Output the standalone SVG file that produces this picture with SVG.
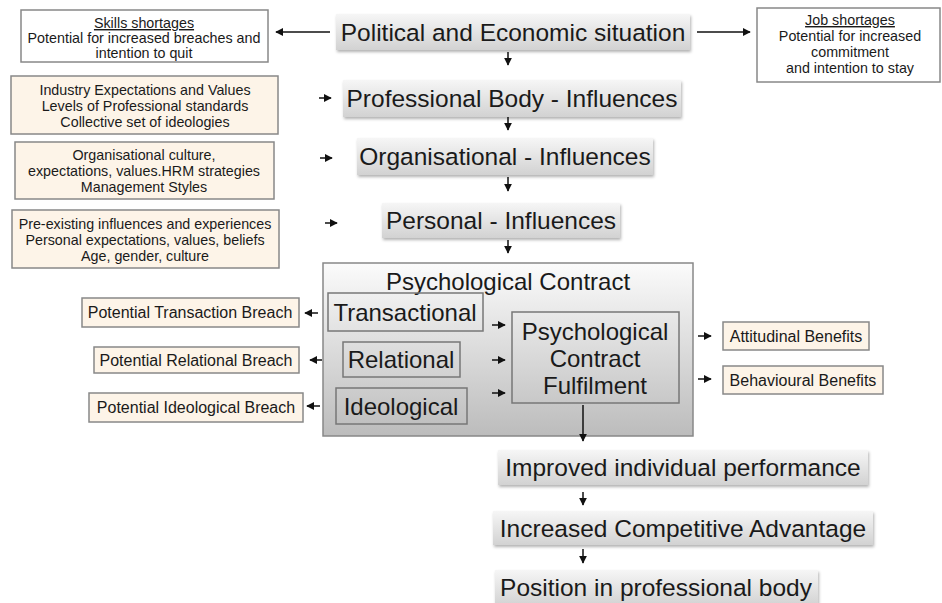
<svg xmlns="http://www.w3.org/2000/svg" width="942" height="603" viewBox="0 0 942 603">
<defs>
<linearGradient id="gbox" x1="0" y1="0" x2="0" y2="1">
<stop offset="0" stop-color="#f6f6f6"/><stop offset="1" stop-color="#d2d2d2"/>
</linearGradient>
<linearGradient id="gbig" x1="0" y1="0" x2="0" y2="1">
<stop offset="0" stop-color="#fbfbfb"/><stop offset="1" stop-color="#bcbcbc"/>
</linearGradient>
<filter id="sh" x="-5%" y="-20%" width="110%" height="150%">
<feDropShadow dx="1" dy="2" stdDeviation="1.5" flood-color="#000" flood-opacity="0.3"/>
</filter>
<marker id="ah" viewBox="0 0 10 10" refX="9" refY="5" markerWidth="8" markerHeight="8" markerUnits="userSpaceOnUse" orient="auto">
<path d="M0,0 L10,5 L0,10 z" fill="#111"/>
</marker>
</defs>
<style>
.t{font-family:"Liberation Sans",Arial,sans-serif;fill:#1a1a1a;text-anchor:middle}
.big{font-size:24.5px}
.sm{font-size:14.3px}
.md{font-size:16px}
.cx{font-size:24px}
.gb{fill:url(#gbox);filter:url(#sh)}
.wb{fill:#fff;stroke:#888;stroke-width:1.5}
.bb{fill:#fdf4e8;stroke:#888;stroke-width:1.5}
.ib{fill:none;stroke:#777;stroke-width:1.5}
.c{stroke:#111;stroke-width:1.5;fill:none;marker-end:url(#ah)}
</style>
<rect width="942" height="603" fill="#fff"/>

<g id="political"><rect class="gb" x="336" y="14" width="354" height="36"/><text class="t big" x="513" y="41">Political and Economic situation</text></g>
<g id="skills"><rect class="wb" x="21" y="10" width="247" height="52"/>
<text class="t sm" x="144" y="28" text-decoration="underline">Skills shortages</text>
<text class="t sm" x="144" y="43">Potential for increased breaches and</text>
<text class="t sm" x="144" y="58">intention to quit</text></g>
<g id="jobs"><rect class="wb" x="757" y="8" width="183" height="74"/>
<text class="t sm" x="850" y="25" text-decoration="underline">Job shortages</text>
<text class="t sm" x="850" y="41">Potential for increased</text>
<text class="t sm" x="850" y="57">commitment</text>
<text class="t sm" x="850" y="73">and intention to stay</text></g>

<g id="professional"><rect class="gb" x="343" y="80" width="338" height="37"/><text class="t big" x="512" y="107">Professional Body - Influences</text></g>
<g id="industry"><rect class="bb" x="11" y="76" width="267" height="58"/>
<text class="t sm" x="145" y="95">Industry Expectations and Values</text>
<text class="t sm" x="145" y="111">Levels of Professional standards</text>
<text class="t sm" x="145" y="127">Collective set of ideologies</text></g>

<g id="organisational"><rect class="gb" x="357" y="138" width="296" height="37"/><text class="t big" x="505" y="165">Organisational - Influences</text></g>
<g id="orgculture"><rect class="bb" x="15" y="142" width="259" height="57"/>
<text class="t sm" x="144" y="160">Organisational culture,</text>
<text class="t sm" x="144" y="176">expectations, values.HRM strategies</text>
<text class="t sm" x="144" y="192">Management Styles</text></g>

<g id="personal"><rect class="gb" x="382" y="203" width="238" height="35"/><text class="t big" x="501" y="229">Personal - Influences</text></g>
<g id="preexisting"><rect class="bb" x="12" y="210" width="267" height="58"/>
<text class="t sm" x="145" y="229">Pre-existing influences and experiences</text>
<text class="t sm" x="145" y="245">Personal expectations, values, beliefs</text>
<text class="t sm" x="145" y="261">Age, gender, culture</text></g>

<g id="contract"><rect x="323" y="263" width="370" height="173" fill="url(#gbig)" stroke="#888" stroke-width="1.5"/>
<text class="t cx" x="508" y="290">Psychological Contract</text></g>
<g id="transactional"><rect class="ib" x="328" y="293" width="155" height="38"/><text class="t cx" x="405" y="321">Transactional</text></g>
<g id="relational"><rect class="ib" x="343" y="342" width="117" height="35"/><text class="t cx" x="401" y="368">Relational</text></g>
<g id="ideological"><rect class="ib" x="336" y="388" width="131" height="36"/><text class="t cx" x="401" y="415">Ideological</text></g>
<g id="fulfilment"><rect class="ib" x="512" y="312" width="167" height="91"/>
<text class="t cx" x="595" y="340">Psychological</text>
<text class="t cx" x="595" y="367">Contract</text>
<text class="t cx" x="595" y="394">Fulfilment</text></g>

<g id="transbreach"><rect class="bb" x="82" y="298" width="217" height="29"/><text class="t md" x="190" y="318">Potential Transaction Breach</text></g>
<g id="relbreach"><rect class="bb" x="94" y="347" width="205" height="26"/><text class="t md" x="196" y="366">Potential Relational Breach</text></g>
<g id="ideobreach"><rect class="bb" x="89" y="393" width="214" height="29"/><text class="t md" x="196" y="413">Potential Ideological Breach</text></g>

<g id="attitudinal"><rect class="bb" x="723" y="322" width="146" height="28"/><text class="t md" x="796" y="342">Attitudinal Benefits</text></g>
<g id="behavioural"><rect class="bb" x="723" y="366" width="160" height="28"/><text class="t md" x="803" y="386">Behavioural Benefits</text></g>

<g id="improved"><rect class="gb" x="498" y="450" width="370" height="35"/><text class="t big" x="683" y="476">Improved individual performance</text></g>
<g id="competitive"><rect class="gb" x="493" y="511" width="380" height="34"/><text class="t big" x="683" y="537">Increased Competitive Advantage</text></g>
<g id="position"><rect class="gb" x="495" y="570" width="323" height="36"/><text class="t big" x="656" y="596">Position in professional body</text></g>

<g id="connectors">
<line class="c" x1="330" y1="32" x2="276" y2="32"/>
<line class="c" x1="697" y1="32" x2="750" y2="32"/>
<line class="c" x1="508" y1="52" x2="508" y2="65"/>
<line class="c" x1="508" y1="117" x2="508" y2="130"/>
<line class="c" x1="508" y1="177" x2="508" y2="191"/>
<line class="c" x1="508" y1="240" x2="508" y2="253"/>
<line class="c" x1="319" y1="98" x2="331" y2="98"/>
<line class="c" x1="320" y1="158" x2="332" y2="158"/>
<line class="c" x1="325" y1="223" x2="337" y2="223"/>
<line class="c" x1="318" y1="313" x2="305" y2="313"/>
<line class="c" x1="322" y1="360" x2="310" y2="360"/>
<line class="c" x1="320" y1="406" x2="307" y2="406"/>
<line class="c" x1="492" y1="325" x2="505" y2="325"/>
<line class="c" x1="492" y1="360" x2="505" y2="360"/>
<line class="c" x1="492" y1="393" x2="505" y2="393"/>
<line class="c" x1="698" y1="336" x2="711" y2="336"/>
<line class="c" x1="698" y1="379" x2="711" y2="379"/>
<line class="c" x1="583" y1="405" x2="583" y2="441"/>
<line class="c" x1="583" y1="492" x2="583" y2="505"/>
<line class="c" x1="583" y1="549" x2="583" y2="563"/>
</g>
</svg>
